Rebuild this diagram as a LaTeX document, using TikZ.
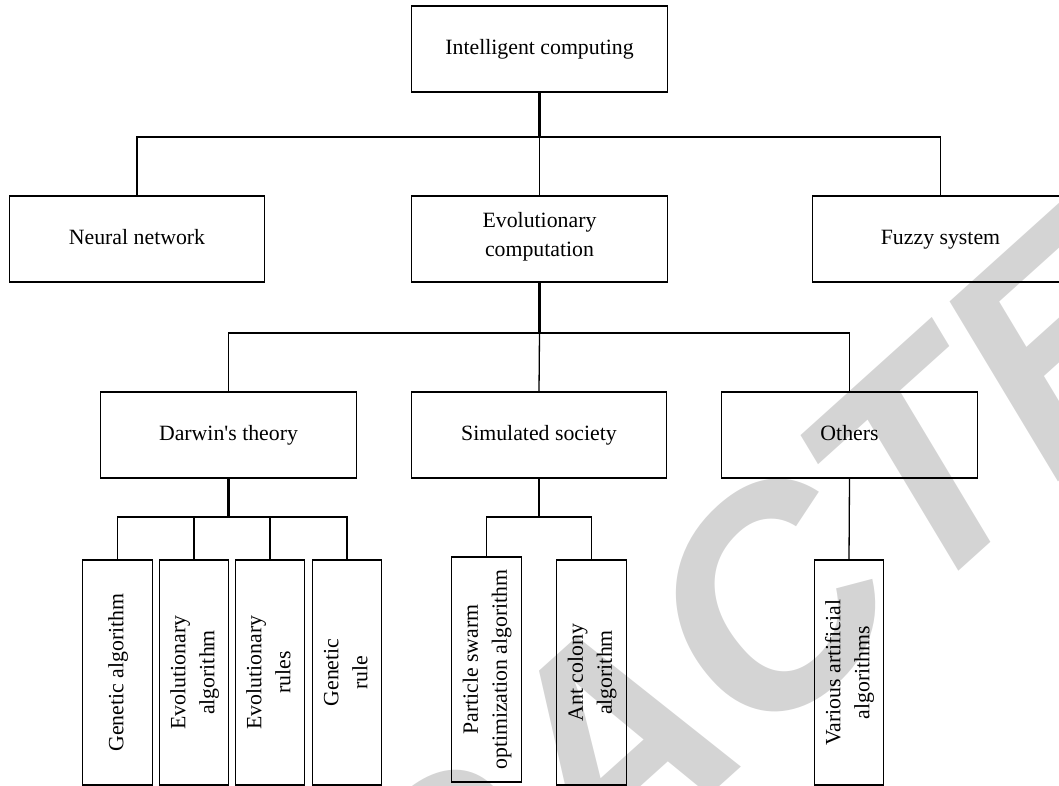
\documentclass[tikz,border=0pt]{standalone}
\usepackage{fontspec}
\setmainfont{Liberation Serif}[Ligatures=TeXOff]
\newfontfamily\wmfont{Liberation Sans}
\definecolor{wmgray}{gray}{0.83}
\newcommand\twol[2]{\begin{tabular}{@{}c@{}}#1\\#2\end{tabular}}
\newcommand\onel[1]{\begin{tabular}{@{}c@{}}#1\end{tabular}}
\tikzset{
  box/.style={draw, line width=0.7pt, inner sep=0pt, align=center,
    font=\fontsize{10.9}{14.5}\selectfont},
  wide/.style={box, minimum width=127.75pt, minimum height=43pt,
    execute at begin node=\strut, execute at end node=\strut},
  leaf/.style={box, minimum width=34.75pt, minimum height=112.5pt},
  conn/.style={line width=0.65pt},
  stem/.style={line width=1.1pt},
  wmark/.style={rotate=42, anchor=base, inner sep=0pt, text=wmgray,
    font=\wmfont\bfseries\itshape\fontsize{150}{150}\selectfont}
}
\begin{document}
\begin{tikzpicture}[x=0.5pt, y=-0.5pt]
\useasboundingbox (0,0) rectangle (1059,786);
% watermark
\node[wmark] (wm) at (677,825) {RETRACTED};
% level 0
\node[wide] (ic) at (539.5,49) {Intelligent computing};
% level 1
\node[wide] (nn) at (137,239) {Neural network};
\node[wide] (ec) at (539.5,239) {Evolutionary\\computation};
\node[wide] (fs) at (940.5,239) {Fuzzy system};
% level 2
\node[wide] (dt) at (228.5,435) {Darwin's theory};
\node[wide] (ss) at (539,435) {Simulated society};
\node[wide] (ot) at (849.5,435) {Others};
% leaves
\node[leaf] (ga) at (117.5,672.5) {\rotatebox{90}{\onel{Genetic algorithm}}};
\node[leaf] (ea) at (194,672.5) {\rotatebox{90}{\twol{Evolutionary}{algorithm}}};
\node[leaf] (er) at (270,672.5) {\rotatebox{90}{\twol{Evolutionary}{rules}}};
\node[leaf] (gr) at (347,672.5) {\rotatebox{90}{\twol{Genetic}{rule}}};
\node[leaf] (pso) at (486.5,669.5) {\rotatebox{90}{\twol{Particle swarm}{optimization algorithm}}};
\node[leaf] (aco) at (591.5,672.5) {\rotatebox{90}{\twol{Ant colony}{algorithm}}};
\node[leaf] (vaa) at (849,672.5) {\rotatebox{90}{\twol{Various artificial}{algorithms}}};
% junctions
\coordinate (j1) at (539.5,137);
\coordinate (j2) at (539.5,333);
\coordinate (j3) at (228.5,517);
\coordinate (j4) at (539,517);
% connectors
\draw[stem] (ic.south) -- (j1);
\draw[conn] (nn.north) |- (j1) -| (fs.north);
\draw[conn] (j1) -- (ec.north);
\draw[stem] (ec.south) -- (j2);
\draw[conn] (dt.north) |- (j2) -| (ot.north);
\draw[conn] (j2) -- (ss.north);
\draw[stem] (dt.south) -- (j3);
\draw[conn] (ga.north) |- (j3) -| (gr.north);
\draw[conn] (ea.north) -- (ea.north |- j3);
\draw[conn] (er.north) -- (er.north |- j3);
\draw[stem] (ss.south) -- (j4);
\draw[conn] (pso.north) |- (j4) -| (aco.north);
\draw[conn] (ot.south) -- (vaa.north);
\end{tikzpicture}
\end{document}
